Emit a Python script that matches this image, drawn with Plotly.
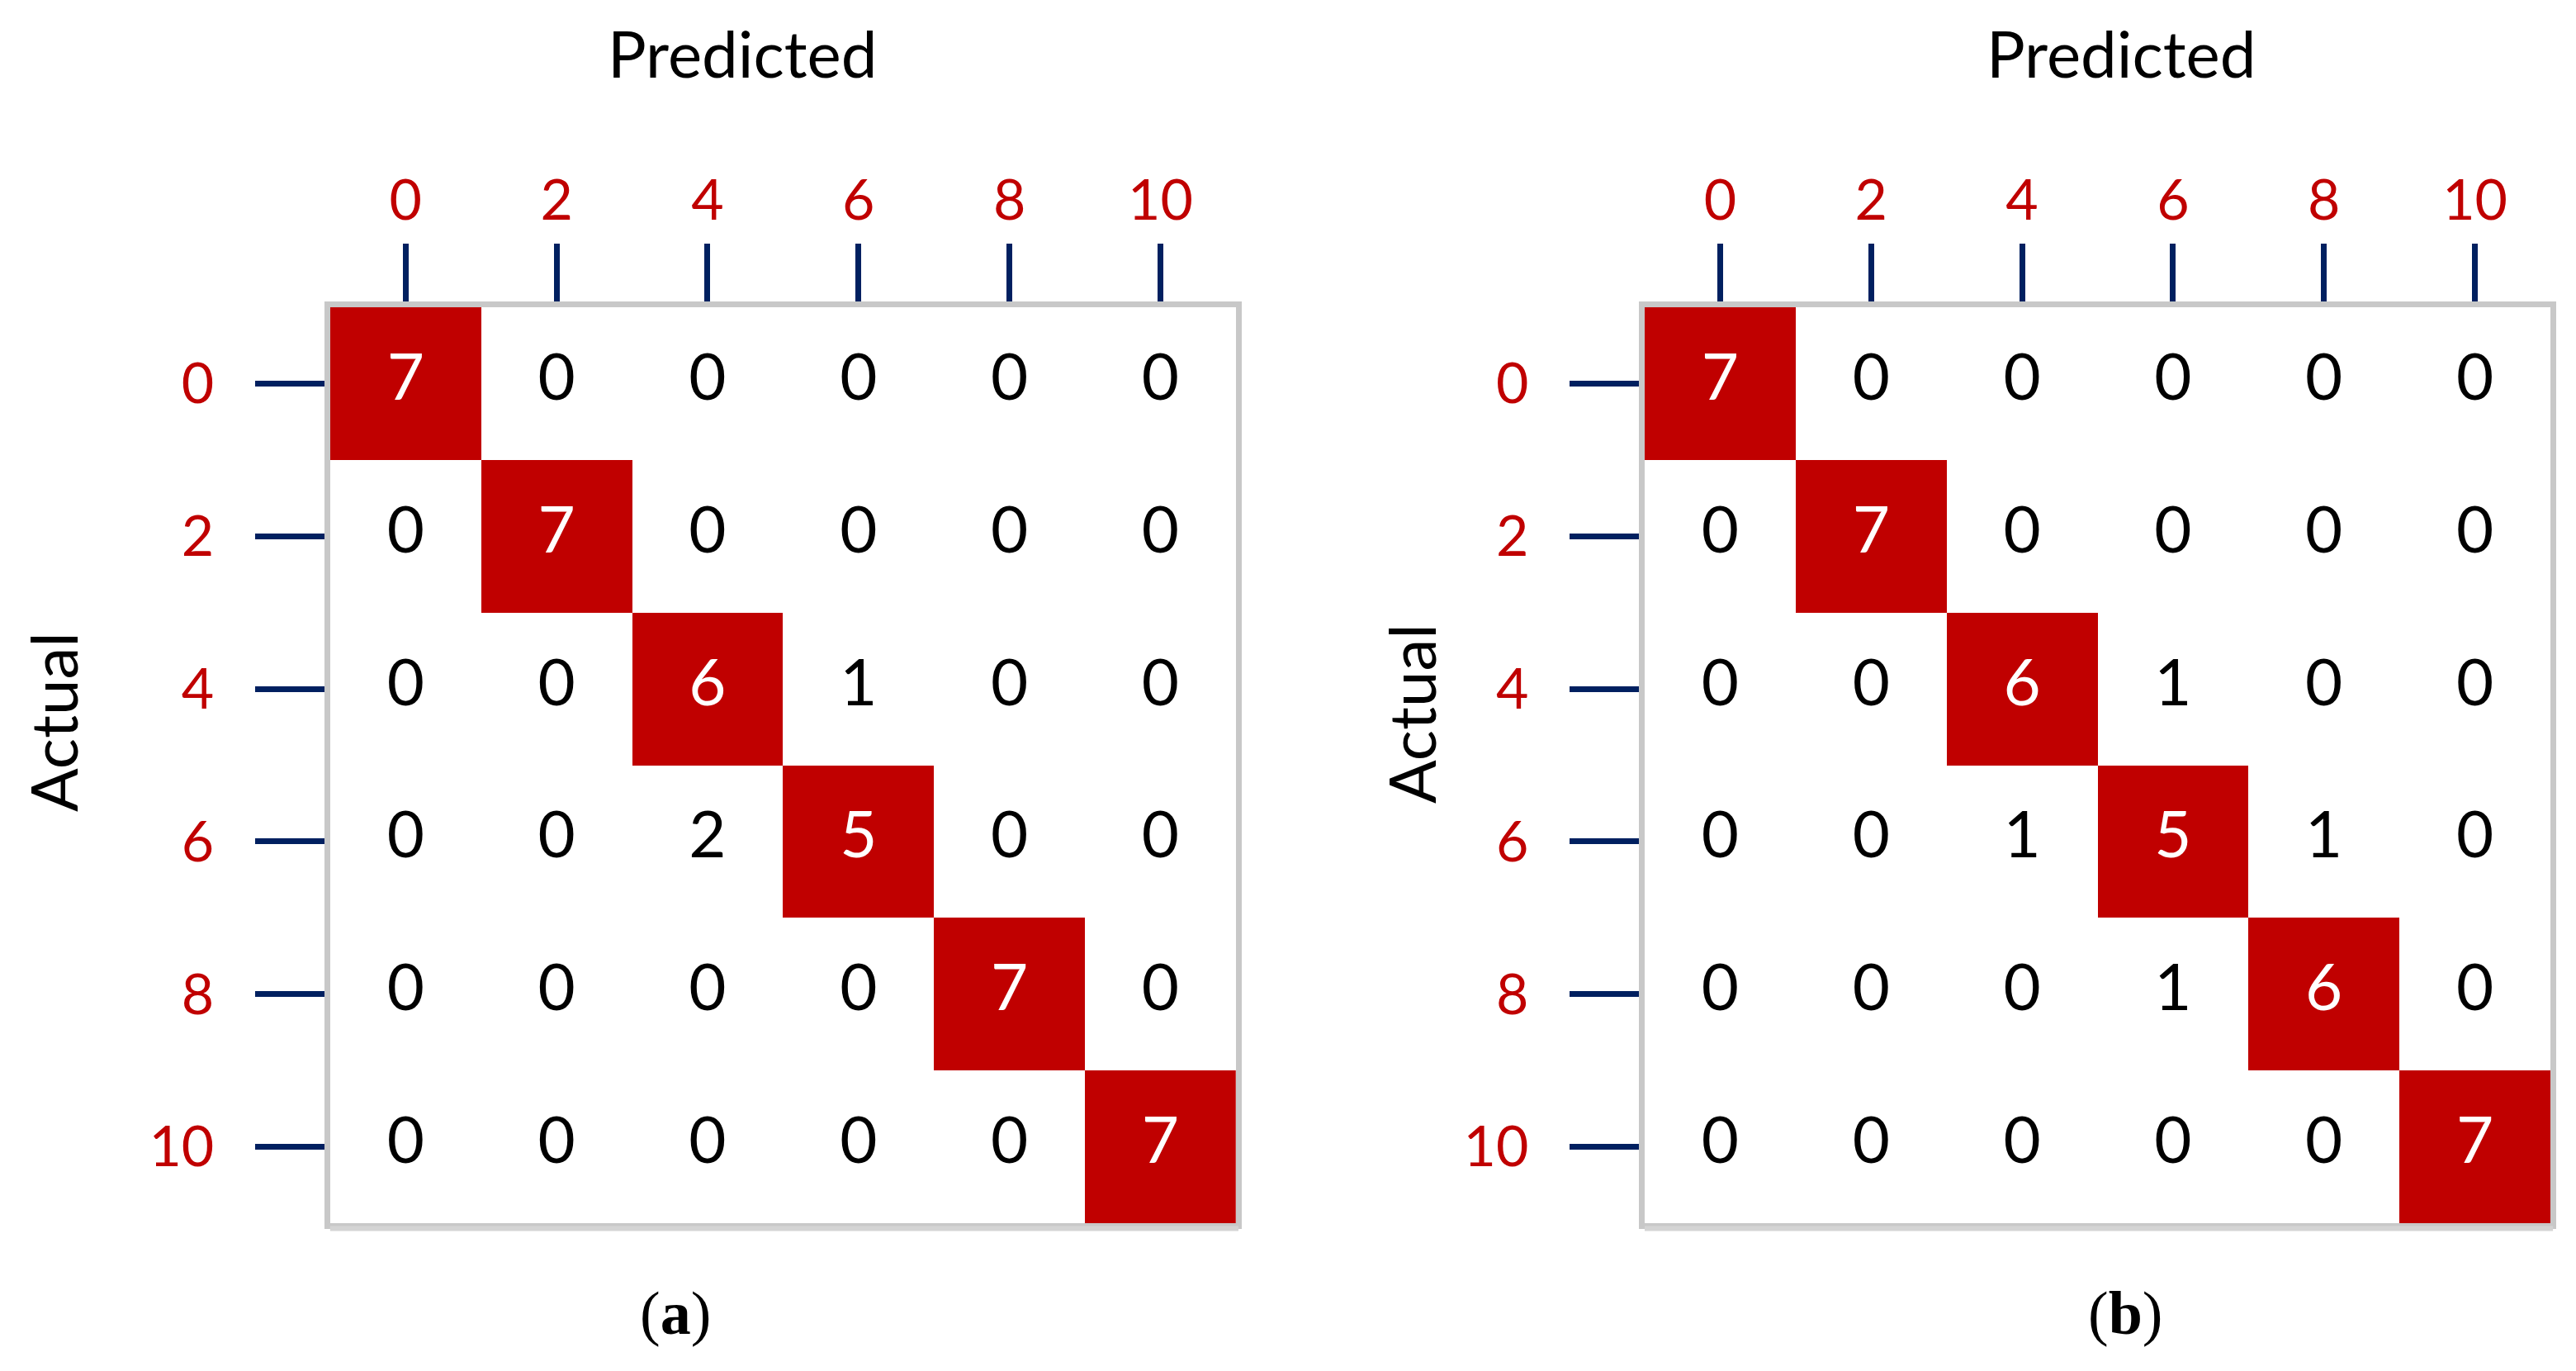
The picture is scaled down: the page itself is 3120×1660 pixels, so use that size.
import plotly.graph_objects as go

classes = [0, 2, 4, 6, 8, 10]
tick_labels = ["0", "2", "4", "6", "8", "10"]

matrix_a = [
    [7, 0, 0, 0, 0, 0],
    [0, 7, 0, 0, 0, 0],
    [0, 0, 6, 1, 0, 0],
    [0, 0, 2, 5, 0, 0],
    [0, 0, 0, 0, 7, 0],
    [0, 0, 0, 0, 0, 7],
]
matrix_b = [
    [7, 0, 0, 0, 0, 0],
    [0, 7, 0, 0, 0, 0],
    [0, 0, 6, 1, 0, 0],
    [0, 0, 1, 5, 1, 0],
    [0, 0, 0, 1, 6, 0],
    [0, 0, 0, 0, 0, 7],
]
panel_labels = ["(<b>a</b>)", "(<b>b</b>)"]

RED = "#C00000"
NAVY = "#002060"
GREY = "#C8C8C8"
FONT = "Lato"

fig = go.Figure()

for k, (mat, xa, ya) in enumerate([(matrix_a, "x", "y"), (matrix_b, "x2", "y2")]):
    n = len(classes)
    mask = [[1 if i == j else 0 for j in range(n)] for i in range(n)]
    fig.add_trace(go.Heatmap(
        x=classes, y=classes, z=mask,
        colorscale=[[0, "white"], [1, RED]], zmin=0, zmax=1,
        showscale=False, hoverinfo="skip", xaxis=xa, yaxis=ya,
    ))
    xs, ys, ts, cs = [], [], [], []
    for i in range(n):
        for j in range(n):
            xs.append(classes[j]); ys.append(classes[i])
            ts.append(str(mat[i][j]))
            cs.append("white" if i == j else "black")
    fig.add_trace(go.Scatter(
        x=xs, y=ys, text=ts, mode="text",
        textfont=dict(family=FONT, size=78, color=cs),
        showlegend=False, hoverinfo="skip", xaxis=xa, yaxis=ya,
    ))

y_dom = [0.1127, 0.7807]
x_doms = [[0.1256, 0.4772], [0.6359, 0.9875]]

def xaxis_cfg(dom, anchor):
    return dict(
        domain=dom, anchor=anchor, side="top", range=[-1, 11],
        tickvals=classes, ticktext=tick_labels,
        ticks="outside", ticklen=70, tickwidth=7, tickcolor=NAVY,
        tickfont=dict(family=FONT, size=68, color=RED),
        ticklabelstandoff=2,
        showline=True, mirror=True, linecolor=GREY, linewidth=7,
        showgrid=False, zeroline=False, fixedrange=True,
    )

def yaxis_cfg(anchor):
    return dict(
        domain=y_dom, anchor=anchor, range=[11, -1],
        tickvals=classes, ticktext=tick_labels,
        ticks="outside", ticklen=84, tickwidth=7, tickcolor=NAVY,
        tickfont=dict(family=FONT, size=68, color=RED),
        ticklabelstandoff=36,
        showline=True, mirror=True, linecolor=GREY, linewidth=7,
        showgrid=False, zeroline=False, fixedrange=True,
    )

annotations = []
pred_x = [891 / 3120, 2561 / 3120]
act_pos = [(56 / 3120, 1 - 866 / 1660), (1701 / 3120, 1 - 856 / 1660)]
lab_x = [810 / 3120, 2566 / 3120]
for k in range(2):
    annotations.append(dict(
        text="Predicted", x=pred_x[k], y=1 - 56 / 1660, xref="paper", yref="paper",
        showarrow=False, xanchor="center", yanchor="middle",
        font=dict(family=FONT, size=78, color="black"),
    ))
    annotations.append(dict(
        text="Actual", x=act_pos[k][0], y=act_pos[k][1], xref="paper", yref="paper",
        showarrow=False, xanchor="center", yanchor="middle", textangle=-90,
        font=dict(family=FONT, size=78, color="black"),
    ))
    annotations.append(dict(
        text=panel_labels[k], x=lab_x[k], y=1 - 1582 / 1660, xref="paper", yref="paper",
        showarrow=False, xanchor="center", yanchor="middle",
        font=dict(family="Liberation Serif", size=74, color="black"),
    ))

# soft shadow under the bottom edge of each matrix box
shapes = []
for dom in x_doms:
    shapes.append(dict(
        type="line", xref="paper", yref="paper",
        x0=dom[0], x1=dom[1] + 0.001, y0=y_dom[0] - 0.004, y1=y_dom[0] - 0.004,
        line=dict(color="#D4D4D4", width=6),
    ))

fig.update_layout(
    width=3120, height=1660,
    margin=dict(l=0, r=0, t=0, b=0),
    paper_bgcolor="white", plot_bgcolor="white",
    xaxis=xaxis_cfg(x_doms[0], "y"),
    yaxis=yaxis_cfg("x"),
    xaxis2=xaxis_cfg(x_doms[1], "y2"),
    yaxis2=yaxis_cfg("x2"),
    annotations=annotations,
    shapes=shapes,
    showlegend=False,
)

fig.write_html("out.html")
